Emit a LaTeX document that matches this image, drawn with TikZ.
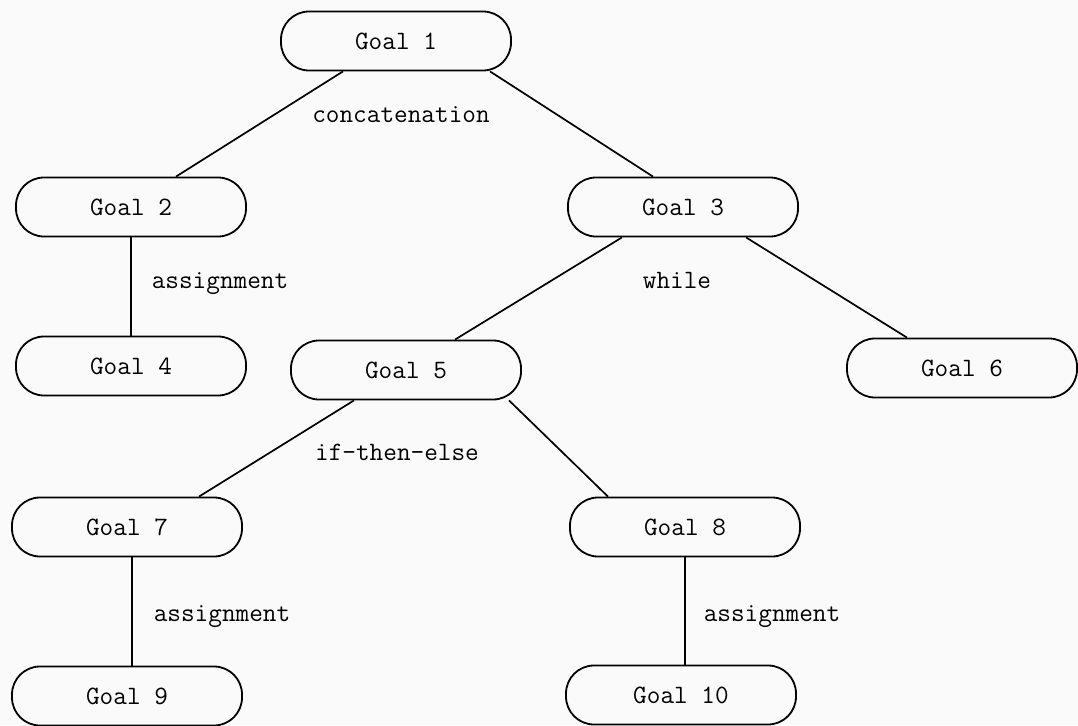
\documentclass[tikz,border=0pt]{standalone}
\usepackage{fontspec}
\usetikzlibrary{arrows}
\usetikzlibrary{arrows.meta}

\begin{document}
\begin{tikzpicture}[x=1pt,y=-1pt,
    goal/.style={draw,line width=1.8pt,rounded corners=28pt,minimum width=230pt,minimum height=59pt,
      inner sep=0pt,font=\ttfamily\fontsize{26.5}{30}\selectfont},
    lbl/.style={inner sep=0pt,font=\ttfamily\fontsize{26.5}{30}\selectfont},
    link/.style={line width=1.7pt}]

    % create a white background, with the page size
    \fill [black!2] (0,0) rectangle (1078,725);
    \useasboundingbox (0,0) rectangle (1078,725);

    % draw the goal boxes
    \foreach \n/\x/\y in {1/396/41, 2/131/207, 3/683/207, 4/131/366, 5/406/370,
                          6/962/368, 7/127/527, 8/685/527, 9/127/696, 10/681/695} {
      \node [goal] (g\n) at (\x,\y) {Goal \n};
    }

    % draw the links between goals
    \foreach \a/\sa/\b/\sb in {1/-53/2/45, 1/94/3/-30, 2/0/4/0, 3/-61/5/49, 3/63/6/-55,
                               5/-52/7/72, 5/103/8/-77, 7/5/9/5, 8/0/10/4} {
      \draw [link] ([xshift=\sa pt]g\a.south) -- ([xshift=\sb pt]g\b.north);
    }

    % construct names
    \node [lbl] (lconc) at (401,115) {concatenation};
    \node [lbl] (lasga) at (220,284) {assignment};
    \node [lbl] (lwhile) at (677,280) {while};
    \node [lbl] (lif) at (397,452) {if-then-else};
    \node [lbl] (lasgb) at (222,617) {assignment};
    \node [lbl] (lasgc) at (772,617) {assignment};

\end{tikzpicture}
\end{document}
